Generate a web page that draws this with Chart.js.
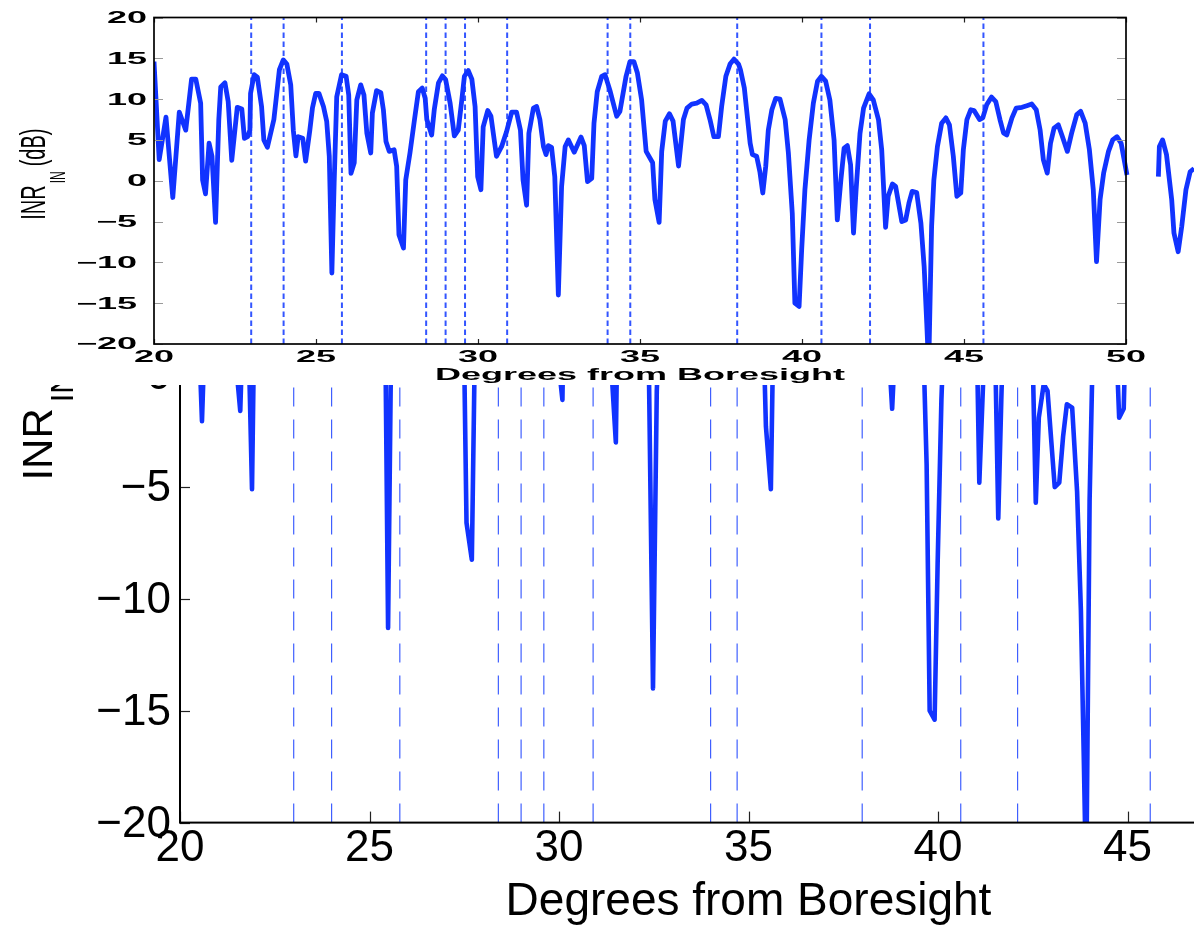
<!DOCTYPE html>
<html>
<head>
<meta charset="utf-8">
<script src="https://cdn.jsdelivr.net/npm/chart.js@4/dist/chart.umd.min.js"></script>
<style>
  html, body { margin: 0; padding: 0; background: #fff; overflow: hidden; }
  #stage { position: relative; width: 1194px; height: 931px; overflow: hidden; background: #fff; }
  #lower, #upper { position: absolute; left: 0; top: 0; }
</style>
</head>
<body>
<div id="stage">
  <canvas id="lower" width="1340" height="931"></canvas>
  <canvas id="upper" width="1240" height="385"></canvas>
</div>
<script>
// Interference-to-noise ratio versus steering angle (degrees from boresight)
const angleDeg = [
  20.00, 20.16, 20.37, 20.58, 20.78, 20.98, 21.16, 21.29, 21.44, 21.50,
  21.59, 21.70, 21.79, 21.90, 22.00, 22.06, 22.19, 22.29, 22.40, 22.57,
  22.71, 22.79, 22.89, 22.96, 22.98, 23.09, 23.19, 23.32, 23.39, 23.50,
  23.70, 23.87, 23.99, 24.10, 24.22, 24.30, 24.38, 24.45, 24.59, 24.68,
  24.81, 24.89, 24.99, 25.09, 25.23, 25.33, 25.41, 25.49, 25.56, 25.64,
  25.79, 25.93, 26.01, 26.08, 26.18, 26.26, 26.38, 26.48, 26.57, 26.69,
  26.74, 26.87, 27.00, 27.08, 27.16, 27.26, 27.41, 27.49, 27.56, 27.70,
  27.77, 27.90, 28.04, 28.16, 28.28, 28.37, 28.42, 28.57, 28.65, 28.78,
  28.90, 29.00, 29.14, 29.27, 29.39, 29.50, 29.58, 29.70, 29.81, 29.91,
  29.99, 30.09, 30.16, 30.30, 30.40, 30.57, 30.73, 30.88, 31.04, 31.19,
  31.31, 31.39, 31.50, 31.57, 31.71, 31.81, 31.91, 32.02, 32.10, 32.17,
  32.27, 32.37, 32.48, 32.58, 32.69, 32.79, 32.97, 33.18, 33.28, 33.38,
  33.51, 33.58, 33.68, 33.82, 33.92, 34.07, 34.28, 34.38, 34.57, 34.69,
  34.81, 34.92, 35.05, 35.19, 35.39, 35.46, 35.59, 35.67, 35.78, 35.91,
  36.02, 36.19, 36.34, 36.45, 36.60, 36.75, 36.91, 37.04, 37.16, 37.28,
  37.42, 37.52, 37.65, 37.78, 37.90, 38.04, 38.10, 38.22, 38.40, 38.47,
  38.60, 38.70, 38.79, 38.88, 38.96, 39.07, 39.19, 39.32, 39.48, 39.58,
  39.70, 39.78, 39.91, 39.99, 40.09, 40.22, 40.35, 40.48, 40.60, 40.73,
  40.86, 40.99, 41.09, 41.20, 41.30, 41.40, 41.50, 41.59, 41.67, 41.79,
  41.90, 42.07, 42.20, 42.36, 42.46, 42.58, 42.66, 42.79, 42.89, 43.08,
  43.20, 43.30, 43.40, 43.54, 43.67, 43.77, 43.85, 43.91, 44.00, 44.07,
  44.18, 44.31, 44.44, 44.55, 44.67, 44.78, 44.90, 44.98, 45.09, 45.21,
  45.31, 45.48, 45.58, 45.70, 45.85, 45.98, 46.11, 46.22, 46.32, 46.48,
  46.61, 46.79, 46.94, 47.09, 47.23, 47.35, 47.45, 47.57, 47.67, 47.78,
  47.91, 48.02, 48.19, 48.32, 48.48, 48.60, 48.74, 48.87, 48.99, 49.09,
  49.20, 49.31, 49.46, 49.59, 49.72, 49.85, 50.03, 50.50, 51.00, 51.03,
  51.13, 51.25, 51.41, 51.48, 51.61, 51.72, 51.85, 51.98, 52.10
];

const inrDb = [
  14.6, 2.6, 7.8, -2.05, 8.4, 6.2, 12.45, 12.45, 9.5, 0.1,
  -1.6, 4.6, 3.0, -5.1, 7.5, 11.5, 12.0, 9.7, 2.5, 9.0,
  8.8, 5.2, 5.4, 6.2, 10.7, 13.0, 12.7, 9.1, 5.0, 4.1,
  7.5, 13.6, 14.8, 14.3, 11.75, 6.2, 3.05, 5.4, 5.2, 2.4,
  6.2, 8.9, 10.7, 10.7, 9.1, 7.3, 3.0, -11.3, -0.3, 10.3,
  13.0, 12.8, 10.5, 0.9, 2.2, 9.9, 11.75, 10.5, 5.8, 3.4,
  8.3, 11.05, 10.8, 8.7, 4.8, 3.6, 3.8, 1.75, -6.6, -8.25,
  0.1, 3.4, 7.5, 10.9, 11.35, 10.1, 7.5, 5.6, 8.7, 12.0,
  12.85, 12.4, 9.5, 5.5, 6.2, 9.9, 12.8, 13.5, 12.45, 9.1,
  0.5, -1.1, 6.6, 8.6, 7.9, 3.0, 4.2, 6.0, 8.4, 8.4,
  6.2, 0.1, -3.0, 5.8, 8.9, 9.1, 7.5, 4.2, 3.2, 4.3,
  4.1, 0.5, -14.0, -0.7, 4.2, 5.0, 3.5, 5.35, 4.3, -0.1,
  0.3, 7.05, 10.9, 12.8, 13.0, 11.1, 7.9, 8.5, 12.8, 14.6,
  14.6, 13.2, 9.9, 3.6, 2.2, -2.3, -5.1, 3.6, 7.3, 8.2,
  7.3, 1.8, 7.5, 8.9, 9.4, 9.5, 9.85, 9.3, 7.5, 5.4,
  5.4, 9.1, 12.8, 14.3, 14.9, 14.3, 13.6, 11.35, 4.6, 3.2,
  3.0, 1.1, -1.5, 1.75, 6.2, 8.7, 10.1, 10.0, 7.5, 3.4,
  -4.0, -15.0, -15.4, -8.45, -1.1, 5.0, 9.5, 12.2, 12.8, 12.2,
  9.9, 5.0, -4.8, 0.1, 4.0, 4.3, 1.95, -6.4, -1.1, 5.8,
  8.9, 10.65, 9.9, 7.5, 3.8, -5.7, -1.9, -0.4, -0.7, -5.0,
  -4.8, -2.75, -1.3, -1.45, -5.2, -10.5, -17.4, -23.0, -5.6, 0.1,
  4.2, 7.05, 7.7, 6.85, 3.0, -1.9, -1.5, 3.8, 7.5, 8.7,
  8.6, 7.5, 7.7, 9.3, 10.25, 9.7, 7.5, 5.85, 5.6, 7.7,
  8.9, 9.0, 9.2, 9.4, 8.7, 6.2, 2.55, 0.94, 4.6, 6.45,
  6.85, 5.6, 3.6, 5.8, 8.1, 8.5, 7.05, 3.8, -1.1, -9.9,
  -2.3, 0.94, 3.6, 5.0, 5.4, 4.6, 0.7, null, 0.5, 4.2,
  5.0, 3.2, -2.3, -6.4, -8.7, -5.6, -1.1, 1.1, 1.5
];

// Steering angles marked with dashed verticals
const markerAngles = [23.0, 24.0, 25.8, 28.4, 29.0, 29.6, 30.9, 34.0, 34.7, 38.0, 40.6, 42.1, 45.6];

const upperXTicks = [20, 25, 30, 35, 40, 45, 50];
const upperYTicks = [-20, -15, -10, -5, 0, 5, 10, 15, 20];
const lowerXTicks = [20, 25, 30, 35, 40, 45, 50];
const lowerYTicks = [-20, -15, -10, -5, 0, 5];

// inset axes frame spans 20..50 deg; its scale runs further so the trace continues past the frame
const upperFrameMax = 50;

const xTitle = 'Degrees from Boresight';
const yTitleMain = 'INR';
const yTitleSub = 'IN';
const yTitleUnit = '(dB)';

const LINE_BLUE = '#1133ff';
const FONT = '"Liberation Sans", Arial, Helvetica, sans-serif';

function fmt(v) { return v < 0 ? '\u2212' + Math.abs(v) : String(v); }

function curvePoints() {
  return angleDeg.map((a, i) => ({ x: a, y: inrDb[i] }));
}

function markerSets(yLo, yHi, style) {
  return markerAngles.map(a => Object.assign({
    data: [{ x: a, y: yLo }, { x: a, y: yHi }],
    pointRadius: 0,
    tension: 0,
    fill: false
  }, style));
}

// text drawn with a horizontal stretch (wide bold lettering of the inset plot)
function wideText(ctx, str, x, y, align, sx) {
  ctx.save();
  ctx.translate(x, y);
  ctx.scale(sx, 1);
  ctx.textAlign = align;
  ctx.fillText(str, 0, 0);
  ctx.restore();
}

// rotated y title: main text, subscript, then unit
function yTitle(ctx, x0, y0, mainSize, subSize, subDrop, sy, gapSub, gapUnit) {
  ctx.save();
  ctx.translate(x0, y0);
  ctx.rotate(-Math.PI / 2);
  ctx.scale(1, sy);
  ctx.textAlign = 'left';
  ctx.textBaseline = 'alphabetic';
  ctx.fillStyle = '#000';
  ctx.font = mainSize + 'px ' + FONT;
  ctx.fillText(yTitleMain, 0, 0);
  let cx = ctx.measureText(yTitleMain).width + gapSub;
  ctx.font = subSize + 'px ' + FONT;
  ctx.fillText(yTitleSub, cx, subDrop);
  cx += ctx.measureText(yTitleSub).width + gapUnit;
  ctx.font = mainSize + 'px ' + FONT;
  ctx.fillText(yTitleUnit, cx, 0);
  ctx.restore();
}

const commonOptions = {
  responsive: false,
  animation: false,
  events: [],
  plugins: { legend: { display: false }, tooltip: { enabled: false } }
};

// ---------- lower (large) axes ----------
const lowerFrame = {
  id: 'lowerFrame',
  beforeDraw(chart) {
    const c = chart.ctx;
    c.save(); c.fillStyle = '#fff'; c.fillRect(0, 0, chart.width, chart.height); c.restore();
  },
  afterDatasetsDraw(chart) {
    const { ctx, chartArea: a, scales: { x, y } } = chart;
    ctx.save();
    ctx.strokeStyle = '#222';
    ctx.lineWidth = 1.2;
    lowerYTicks.forEach(v => {
      const py = Math.round(y.getPixelForValue(v)) + 0.5;
      ctx.beginPath(); ctx.moveTo(a.left, py); ctx.lineTo(a.left + 10, py); ctx.stroke();
    });
    lowerXTicks.forEach(v => {
      const px = Math.round(x.getPixelForValue(v)) + 0.5;
      ctx.beginPath(); ctx.moveTo(px, a.bottom); ctx.lineTo(px, a.bottom - 11); ctx.stroke();
    });
    ctx.strokeStyle = '#000';
    ctx.lineWidth = 2;
    ctx.strokeRect(a.left, a.top, a.right - a.left, a.bottom - a.top);

    ctx.fillStyle = '#000';
    ctx.font = '44px ' + FONT;
    ctx.textBaseline = 'middle';
    ctx.textAlign = 'right';
    lowerYTicks.forEach(v => ctx.fillText(fmt(v), a.left - 9, y.getPixelForValue(v) + 2));
    ctx.textAlign = 'center';
    lowerXTicks.forEach(v => ctx.fillText(fmt(v), x.getPixelForValue(v), a.bottom + 26));

    ctx.font = '46px ' + FONT;
    ctx.textBaseline = 'alphabetic';
    ctx.fillText(xTitle, (a.left + a.right) / 2, a.bottom + 92);

    yTitle(ctx, a.left - 128, a.bottom - 342, 42, 31, 21, 1, 6, 10);
    ctx.restore();
  }
};

new Chart(document.getElementById('lower'), {
  type: 'line',
  data: {
    datasets: [
      {
        data: curvePoints(),
        borderColor: LINE_BLUE,
        borderWidth: 4.6,
        pointRadius: 0,
        tension: 0,
        spanGaps: false,
        fill: false,
        borderJoinStyle: 'round'
      },
      ...markerSets(-20, 5, { borderColor: '#3f5fff', borderWidth: 1.2, borderDash: [19, 13] })
    ]
  },
  options: Object.assign({}, commonOptions, {
    layout: { padding: { left: 180, right: 23, top: 263.4, bottom: 108.4 } },
    scales: {
      x: { type: 'linear', min: 20, max: 50, display: false },
      y: { type: 'linear', min: -20, max: 5, display: false }
    }
  }),
  plugins: [lowerFrame]
});

// ---------- upper (inset) axes ----------
const upperFrame = {
  id: 'upperFrame',
  beforeDraw(chart) {
    const c = chart.ctx;
    c.save(); c.fillStyle = '#fff'; c.fillRect(0, 0, chart.width, chart.height); c.restore();
  },
  afterDatasetsDraw(chart) {
    const { ctx, chartArea: a, scales: { x, y } } = chart;
    const left = a.left, top = a.top, bottom = a.bottom;
    const right = x.getPixelForValue(upperFrameMax);
    ctx.save();
    ctx.lineWidth = 1.2;
    ctx.strokeStyle = '#9a9a9a';
    upperYTicks.forEach(v => {
      const py = Math.round(y.getPixelForValue(v)) + 0.5;
      ctx.beginPath();
      ctx.moveTo(left, py); ctx.lineTo(left + 9, py);
      ctx.moveTo(right - 9, py); ctx.lineTo(right, py);
      ctx.stroke();
    });
    ctx.strokeStyle = '#222';
    upperXTicks.forEach(v => {
      const px = Math.round(x.getPixelForValue(v)) + 0.5;
      ctx.beginPath();
      ctx.moveTo(px, bottom); ctx.lineTo(px, bottom - 5);
      ctx.moveTo(px, top); ctx.lineTo(px, top + 5);
      ctx.stroke();
    });
    ctx.strokeStyle = '#000';
    ctx.lineWidth = 1.7;
    ctx.strokeRect(left, top, right - left, bottom - top);

    ctx.fillStyle = '#000';
    ctx.font = 'bold 16px ' + FONT;
    ctx.textBaseline = 'middle';
    upperYTicks.forEach(v => {
      wideText(ctx, fmt(v), v < 0 ? left - 17 : left - 7, y.getPixelForValue(v) + 1, 'right', 2.25);
    });
    upperXTicks.forEach(v => {
      wideText(ctx, fmt(v), x.getPixelForValue(v), bottom + 14, 'center', 2.25);
    });
    ctx.textBaseline = 'alphabetic';
    wideText(ctx, xTitle, (left + right) / 2, bottom + 36, 'center', 2.25);

    yTitle(ctx, left - 109, (top + bottom) / 2 + 39, 20, 12, 11, 1.8, 2, 5);
    ctx.restore();
  }
};

new Chart(document.getElementById('upper'), {
  type: 'line',
  data: {
    datasets: [
      {
        data: curvePoints(),
        borderColor: LINE_BLUE,
        borderWidth: 4.8,
        pointRadius: 0,
        tension: 0,
        spanGaps: false,
        fill: false,
        borderJoinStyle: 'round'
      },
      ...markerSets(-20, 20, { borderColor: '#3355ff', borderWidth: 2, borderDash: [5.5, 3.5] })
    ]
  },
  options: Object.assign({}, commonOptions, {
    layout: { padding: { left: 154, right: 16.8, top: 17.5, bottom: 41 } },
    scales: {
      x: { type: 'linear', min: 20, max: 53, display: false },
      y: { type: 'linear', min: -20, max: 20, display: false }
    }
  }),
  plugins: [upperFrame]
});
</script>
</body>
</html>
